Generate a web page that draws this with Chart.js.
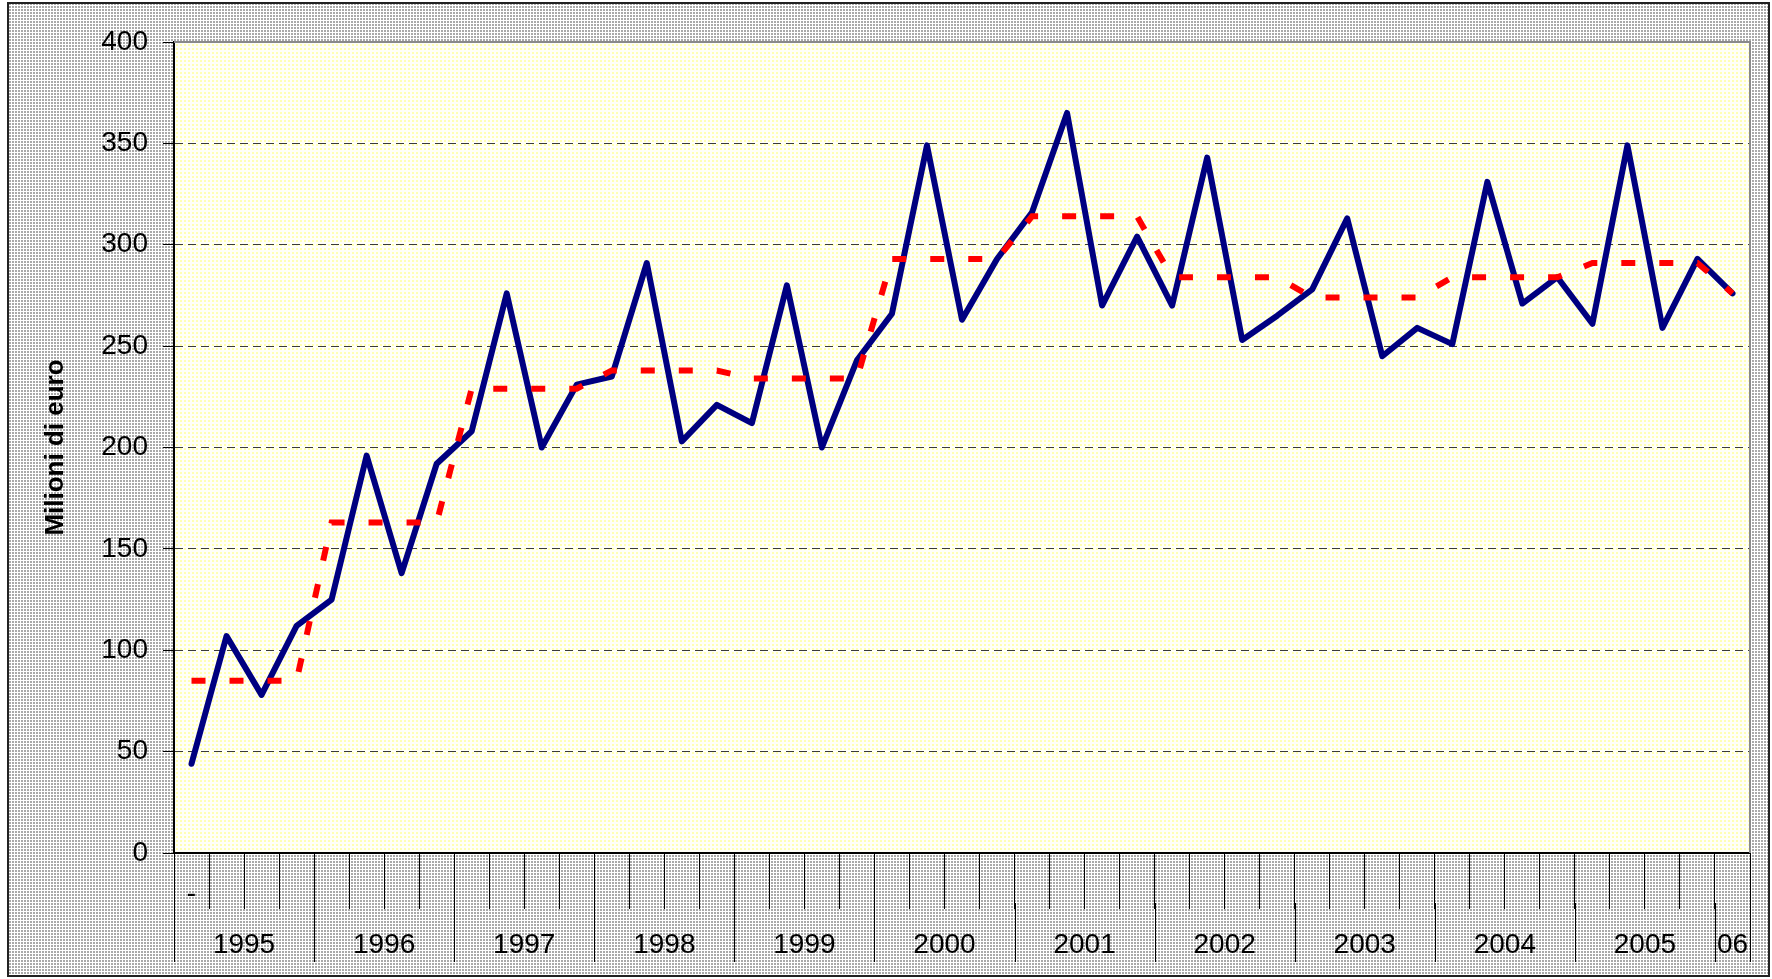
<!DOCTYPE html>
<html><head><meta charset="utf-8">
<script src="https://cdn.jsdelivr.net/npm/chart.js@4"></script>
<style>html,body{margin:0;padding:0;background:#fff;}canvas{display:block;}</style>
</head><body>
<canvas id="c" width="1772" height="979"></canvas>
<script>
// ---- data ----
const years = ['1995','1996','1997','1998','1999','2000','2001','2002','2003','2004','2005','06'];
const quartersPerYear = [4,4,4,4,4,4,4,4,4,4,4,1];
const innerLabels = ['-'];
const quarterly = [44,107,78,112, 125,196,138,192, 208,276,200,231, 235,291,203,221,
  212,280,200,243, 266,349,263,293, 316,365,270,304, 270,343,253,265,
  278,313,245,259, 251,331,271,284, 261,349,259,293, 276];
const annualAverage = [85,85,85,85, 163,163,163,163, 229,229,229,229, 238,238,238,238,
  234,234,234,234, 293,293,293,293, 314,314,314,314, 284,284,284,284,
  274,274,274,274, 284,284,284,284, 291,291,291,291, 276];
const yMin = 0, yMax = 400, yStep = 50;
const yTitle = 'Milioni di euro';

// categories built from years & quarter counts
const categories = [];
years.forEach((y, i) => { for (let q = 1; q <= quartersPerYear[i]; q++) categories.push(y + ' T' + q); });

function makePattern(size, bg, dots, color) {
  const c = document.createElement('canvas');
  c.width = size; c.height = size;
  const g = c.getContext('2d');
  g.fillStyle = bg; g.fillRect(0, 0, size, size);
  g.fillStyle = color;
  dots.forEach(d => g.fillRect(d[0], d[1], d[2], d[2]));
  return c;
}
const grayTile = makePattern(3, '#ffffff', [[0,0,2]], '#a9a9a9');
const yellowTile = makePattern(4, '#fffff8', [[0,0,2]], '#ffffb4');

const labelFont = '28px "Liberation Sans", Arial, sans-serif';

const decor = {
  id: 'decor',
  beforeDraw(chart) {
    const ctx = chart.ctx, a = chart.chartArea;
    ctx.save();
    ctx.fillStyle = '#ffffff';
    ctx.fillRect(0, 0, chart.width, chart.height);
    ctx.fillStyle = ctx.createPattern(grayTile, 'repeat');
    ctx.fillRect(8, 3, 1761, 973);
    ctx.strokeStyle = '#222';
    ctx.lineWidth = 2;
    ctx.strokeRect(8, 3, 1761, 973);
    ctx.fillStyle = ctx.createPattern(yellowTile, 'repeat');
    ctx.fillRect(a.left, a.top, a.right - a.left, a.bottom - a.top);
    ctx.restore();
  },
  afterDraw(chart) {
    const ctx = chart.ctx, a = chart.chartArea, x = chart.scales.x;
    ctx.save();
    // plot area border top & right
    ctx.strokeStyle = '#8a8a8a';
    ctx.lineWidth = 2;
    ctx.beginPath();
    ctx.moveTo(a.left, a.top); ctx.lineTo(a.right, a.top); ctx.lineTo(a.right, a.bottom);
    ctx.stroke();
    // year boundaries & labels
    const half = (x.getPixelForValue(1) - x.getPixelForValue(0)) / 2;
    ctx.strokeStyle = '#000';
    ctx.lineWidth = 1;
    ctx.fillStyle = '#000';
    ctx.font = labelFont;
    ctx.textAlign = 'center';
    ctx.textBaseline = 'middle';
    let idx = 0;
    const bounds = [];
    years.forEach((y, i) => {
      const start = x.getPixelForValue(idx) - half;
      const end = x.getPixelForValue(idx + quartersPerYear[i] - 1) + half;
      bounds.push(start, end);
      ctx.fillText(y, (start + end) / 2, a.bottom + 92);
      idx += quartersPerYear[i];
    });
    bounds.forEach(b => {
      const px = Math.round(b) + 0.5;
      ctx.beginPath(); ctx.moveTo(px, a.bottom + 50); ctx.lineTo(px, a.bottom + 109); ctx.stroke();
    });
    innerLabels.forEach((t, i) => ctx.fillText(t, x.getPixelForValue(i), a.bottom + 41));
    ctx.restore();
  }
};

new Chart(document.getElementById('c'), {
  type: 'line',
  data: {
    labels: categories,
    datasets: [
      { label: 'Trimestrale', data: quarterly, borderColor: '#000080', borderWidth: 6,
        pointRadius: 0, tension: 0, borderJoinStyle: 'round', borderCapStyle: 'round', order: 1 },
      { label: 'Media annua', data: annualAverage, borderColor: '#ff0000', borderWidth: 6,
        borderDash: [14, 24], pointRadius: 0, tension: 0, borderCapStyle: 'butt', order: 0 }
    ]
  },
  options: {
    responsive: false,
    animation: false,
    devicePixelRatio: 1,
    layout: { padding: { left: 0, top: 42, right: 22, bottom: 0 } },
    plugins: { legend: { display: false }, tooltip: { enabled: false } },
    scales: {
      x: {
        offset: true,
        grid: { display: true, offset: true, drawOnChartArea: false, drawTicks: true,
          tickLength: 56, tickColor: '#000', tickWidth: 1 },
        border: { display: true, color: '#000', width: 2 },
        ticks: { display: false, autoSkip: false },
        afterFit: s => { s.height = 126; }
      },
      y: {
        min: yMin, max: yMax,
        ticks: { stepSize: yStep, color: '#000', font: { family: '"Liberation Sans", Arial, sans-serif', size: 28 }, padding: 15 },
        grid: {
          color: c => (c.tick && (c.tick.value === yMin || c.tick.value === yMax)) ? 'rgba(0,0,0,0)' : '#3a3a3a',
          lineWidth: 1, tickLength: 11, tickColor: '#000', tickWidth: 1, tickBorderDash: []
        },
        border: { display: true, color: '#000', width: 2, dash: [8, 5] },
        title: { display: true, text: yTitle, color: '#000',
          font: { family: '"Liberation Sans", Arial, sans-serif', size: 26, weight: 'bold' }, padding: { top: 40, bottom: 0 } },
        afterFit: s => { s.width = 174; }
      }
    }
  },
  plugins: [decor]
});
</script>
</body></html>
